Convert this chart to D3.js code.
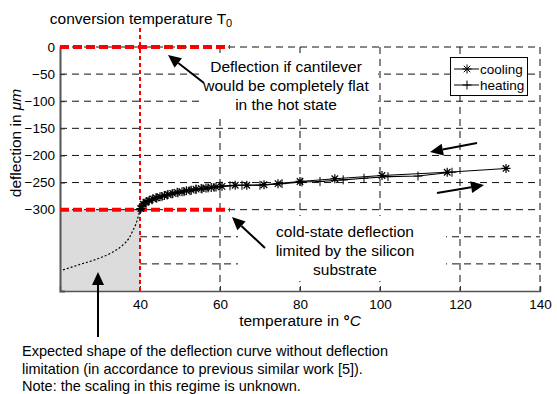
<!DOCTYPE html>
<html><head><meta charset="utf-8">
<script src="https://cdn.jsdelivr.net/npm/d3@7"></script>
<style>
body{margin:0;background:#fff;}
text{font-family:"Liberation Sans",Arial,sans-serif;fill:#000;}
</style></head><body>
<svg id="c" width="557" height="394"></svg>
<script>
// ---- data ----
const xTicks = [40, 60, 80, 100, 120, 140];
const yTickLabels = [0, -50, -100, -150, -200, -250, -300];
const yGrid = [0, -50, -100, -150, -200, -250, -300, -350, -400];
const coolingT = [40.2,40.8,41.5,42.3,43.2,44.0,45.0,46.1,47.0,48.2,49.3,50.5,51.6,52.8,54.0,55.3,56.5,57.8,59.0,60.5,63.8,66.7,71.0,74.5,80.0,88.7,100.5,116.8,131.5];
const coolingD = [-298,-290,-286,-283,-280,-278,-276,-274,-272,-270,-268,-267,-265,-264,-262,-261,-260,-259,-258,-257,-255,-255,-254,-252,-248,-243,-237,-231,-224];
const heatingT = [40.0,40.5,41.2,42.0,43.0,44.2,45.5,46.8,48.0,49.5,51.0,52.5,54.0,55.5,57.0,58.5,60.0,62.5,65.5,70.0,75.5,80.5,85.0,90.8,96.0,102.0,109.5,118.0];
const heatingD = [-300,-293,-288,-285,-282,-279,-276,-273,-271,-269,-267,-265,-263,-262,-260,-259,-257,-256,-255,-255,-252,-249,-248,-245,-242,-239,-238,-231];
const expectedT = [20.75,25,30,33,35.75,37.3,38.25,39.0,39.5,40];
const expectedD = [-411,-401,-389,-379,-365,-352,-338,-326,-314,-300];
const T0 = 40, flatD = 0, limitD = -300;

const svg = d3.select("#c");
const x = d3.scaleLinear().domain([20,140]).range([60,540]);
const y = d3.scaleLinear().domain([-450,0]).range([291,47]);

// gray region
svg.append("rect").attr("x",x(20)).attr("y",y(limitD)).attr("width",x(T0)-x(20)).attr("height",y(-450)-y(limitD)).attr("fill","#dcdcdc");

// grid
const g = svg.append("g");
g.selectAll(".vg").data(xTicks.filter(d=>d!==T0)).enter().append("line")
  .attr("x1",d=>x(d)).attr("x2",d=>x(d)).attr("y1",y(0)).attr("y2",y(-450))
  .attr("stroke","#111").attr("stroke-width",1).attr("stroke-dasharray","7,5");
g.selectAll(".hg").data(yGrid).enter().append("line")
  .attr("x1",d=>d<limitD?x(T0):x(20)).attr("x2",x(140)).attr("y1",d=>y(d)).attr("y2",d=>y(d))
  .attr("stroke","#111").attr("stroke-width",1).attr("stroke-dasharray","7,5");

// axes
const xAxis = d3.axisBottom(x).tickValues(xTicks).tickSize(-5).tickPadding(8).tickFormat(d3.format("d"));
const gx = svg.append("g").attr("transform",`translate(0,${y(-450)})`).call(xAxis);
gx.select(".domain").attr("stroke","#555").attr("stroke-width",1.5);
gx.selectAll(".tick line").attr("stroke","#333");
gx.selectAll("text").attr("font-size",13.5).attr("font-family","Liberation Sans, Arial");
const yAxis = d3.axisLeft(y).tickValues(yTickLabels).tickSize(-5).tickPadding(5);
const gy = svg.append("g").attr("transform",`translate(${x(20)},0)`).call(yAxis);
gy.select(".domain").attr("stroke","#555").attr("stroke-width",2);
gy.selectAll(".tick line").attr("stroke","#333");
gy.selectAll("text").attr("font-size",13.5).attr("font-family","Liberation Sans, Arial");

// annotation boxes (white background)
svg.append("rect").attr("x",203).attr("y",53).attr("width",175).attr("height",62).attr("fill","#fff");
svg.append("rect").attr("x",238).attr("y",216).attr("width",208).attr("height",65).attr("fill","#fff");

// red reference lines
svg.append("line").attr("x1",x(T0)).attr("x2",x(T0)).attr("y1",28).attr("y2",y(-450))
  .attr("stroke","#f00").attr("stroke-width",2).attr("stroke-dasharray","4,3");
[flatD, limitD].forEach(v=>{
  svg.append("line").attr("x1",x(20)).attr("x2",x(62.5)).attr("y1",y(v)).attr("y2",y(v))
    .attr("stroke","#f00").attr("stroke-width",4).attr("stroke-dasharray","9,4");
});

// expected curve
const pts = (tx,ty)=>tx.map((t,i)=>[x(t),y(ty[i])]);
svg.append("path").attr("d",d3.line().curve(d3.curveMonotoneX)(pts(expectedT,expectedD)))
  .attr("fill","none").attr("stroke","#000").attr("stroke-width",1.2).attr("stroke-dasharray","2,2");

// series lines
svg.append("path").attr("d",d3.line()(pts(heatingT,heatingD))).attr("fill","none").attr("stroke","#000").attr("stroke-width",1.1);
svg.append("path").attr("d",d3.line()(pts(coolingT,coolingD))).attr("fill","none").attr("stroke","#000").attr("stroke-width",1.1);

function star(cx,cy,r){const a=r*0.72;return `M${cx},${cy-r}V${cy+r}M${cx-r},${cy}H${cx+r}M${cx-a},${cy-a}L${cx+a},${cy+a}M${cx-a},${cy+a}L${cx+a},${cy-a}`;}
function plus(cx,cy,r){return `M${cx},${cy-r}V${cy+r}M${cx-r},${cy}H${cx+r}`;}
svg.append("path").attr("d",pts(heatingT,heatingD).map(p=>plus(p[0],p[1],4.5)).join("")).attr("stroke","#000").attr("stroke-width",1).attr("fill","none");
svg.append("path").attr("d",pts(coolingT,coolingD).map(p=>star(p[0],p[1],4.5)).join("")).attr("stroke","#000").attr("stroke-width",1.2).attr("fill","none");

// legend
const lg = svg.append("g");
lg.append("rect").attr("x",450.5).attr("y",57.5).attr("width",77).attr("height",38).attr("fill","#fff").attr("stroke","#000").attr("stroke-width",1);
[["cooling",star,69],["heating",plus,85]].forEach(([lab,fn,yy])=>{
  lg.append("line").attr("x1",454).attr("x2",479).attr("y1",yy).attr("y2",yy).attr("stroke","#000");
  lg.append("path").attr("d",fn(467,yy,4.5)).attr("stroke","#000").attr("fill","none");
  lg.append("text").attr("x",480).attr("y",yy+4.5).attr("font-size",13.5).text(lab);
});

// arrows
function arrow(x1,y1,x2,y2){
  const ang=Math.atan2(y2-y1,x2-x1), L=13, W=6;
  const bx=x2-L*Math.cos(ang), by=y2-L*Math.sin(ang);
  svg.append("line").attr("x1",x1).attr("y1",y1).attr("x2",bx).attr("y2",by).attr("stroke","#000").attr("stroke-width",2);
  const px=-Math.sin(ang)*W, py=Math.cos(ang)*W;
  svg.append("path").attr("d",`M${x2},${y2}L${bx+px},${by+py}L${bx-px},${by-py}Z`).attr("fill","#000");
}
arrow(204,83,168,55);
arrow(265,248,232,217);
arrow(98,337,98,272);
arrow(477,143,430,152);
arrow(437,193,484,185);

// texts
const txt=(s,xx,yy,anchor,size)=>svg.append("text").attr("x",xx).attr("y",yy).attr("text-anchor",anchor).attr("font-size",size).text(s);
const t0 = svg.append("text").attr("x",141).attr("y",24).attr("text-anchor","middle").attr("font-size",15.5);
t0.append("tspan").text("conversion temperature T");
t0.append("tspan").attr("font-size",11).attr("dy",3).text("0");
txt("Deflection if cantilever",286,72,"middle",15.5);
txt("would be completely flat",286,91,"middle",15.5);
txt("in the hot state",286,110,"middle",15.5);
txt("cold-state deflection",345,237,"middle",15.5);
txt("limited by the silicon",345,256,"middle",15.5);
txt("substrate",345,275,"middle",15.5);
txt("Expected shape of the deflection curve without deflection",22,356,"start",14.5);
txt("limitation (in accordance to previous similar work [5]).",22,374,"start",14.5);
txt("Note: the scaling in this regime is unknown.",22,391,"start",14.5);
const xl = svg.append("text").attr("x",300).attr("y",326).attr("text-anchor","middle").attr("font-size",15.5);
xl.append("tspan").text("temperature in ");
xl.append("tspan").attr("font-weight","bold").text("°");
xl.append("tspan").attr("font-style","italic").text("C");
const yl = svg.append("text").attr("transform","translate(21,143) rotate(-90)").attr("text-anchor","middle").attr("font-size",15.5);
yl.append("tspan").text("deflection in ");
yl.append("tspan").attr("font-style","italic").text("μm");
</script></body></html>
